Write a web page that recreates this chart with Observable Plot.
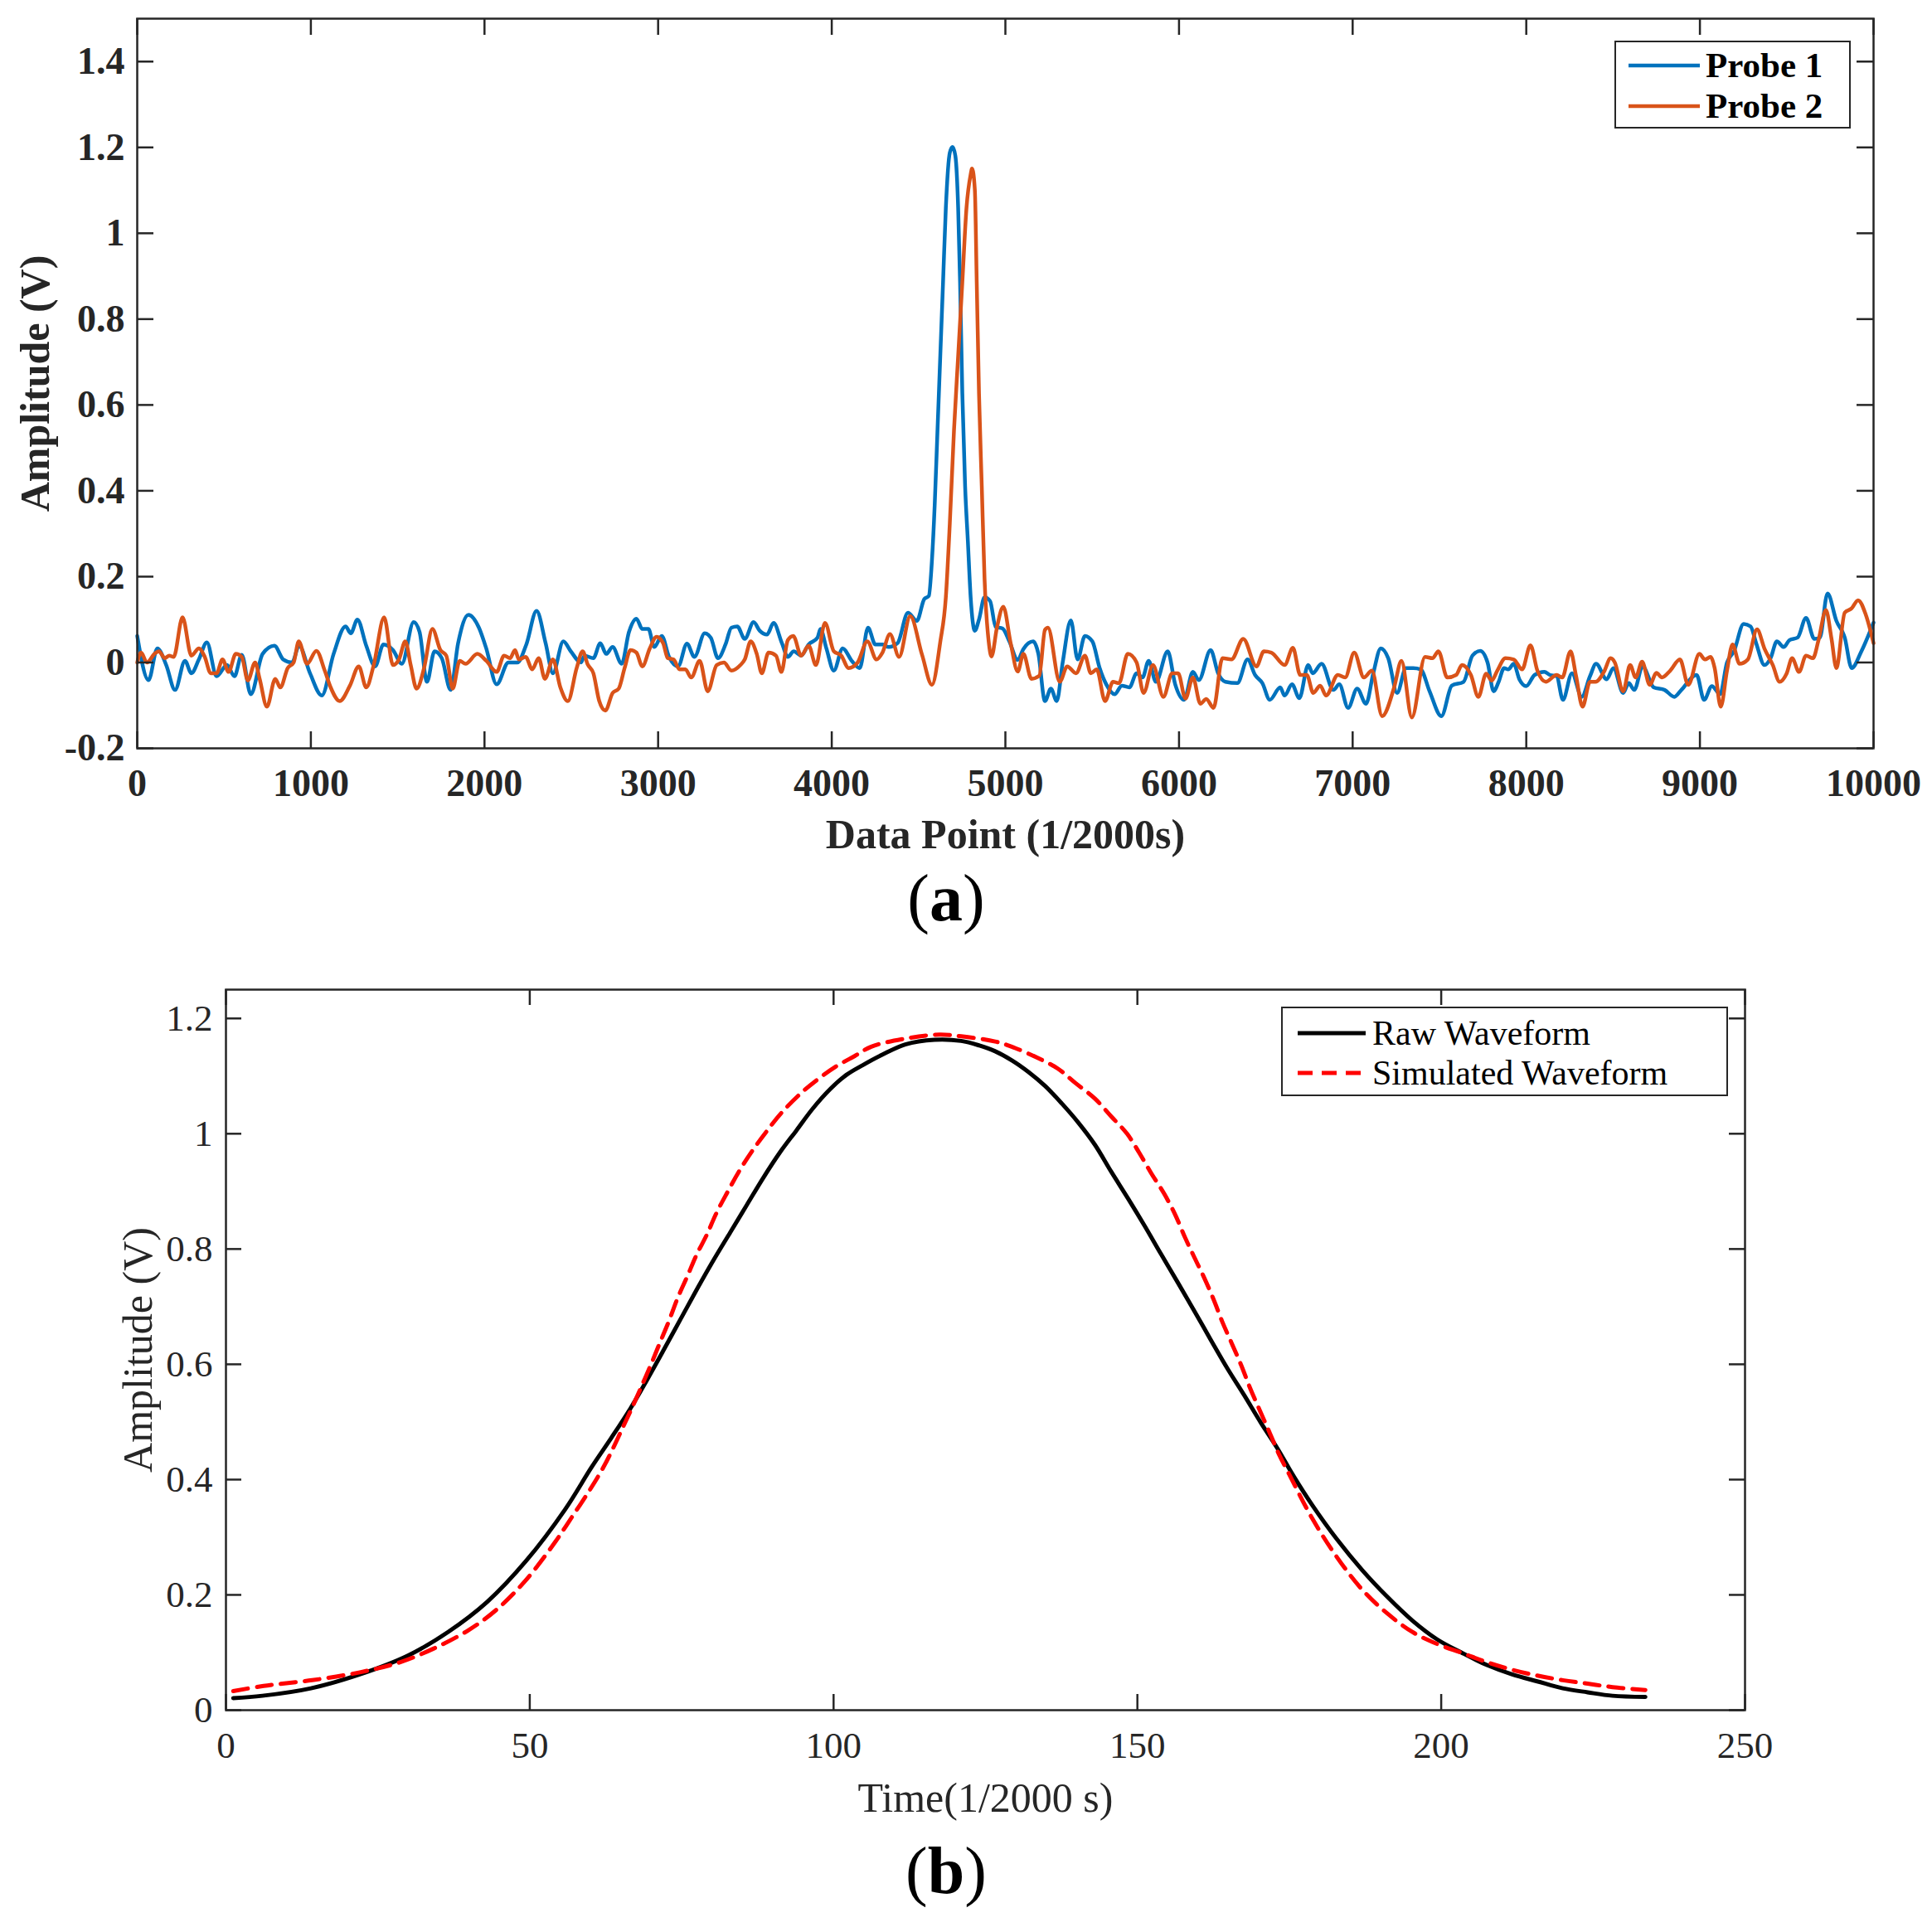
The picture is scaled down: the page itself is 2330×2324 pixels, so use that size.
<!DOCTYPE html>
<html>
<head>
<meta charset="utf-8">
<script src="https://cdn.jsdelivr.net/npm/d3@7"></script>
<script src="https://cdn.jsdelivr.net/npm/@observablehq/plot@0.6"></script>
<style>
  body { margin: 0; background: #fff; }
  #page { position: relative; width: 2330px; height: 2324px; background: #fff; font-family: "Liberation Serif", "Times New Roman", serif; color: #000; overflow: hidden; }
  .panel { position: absolute; left: 0; }
  .legend { position: absolute; border: 2px solid #262626; background: #fff; box-sizing: border-box; }
  .row { position: absolute; left: 0; height: 50px; white-space: nowrap; }
  .row svg { position: absolute; top: 0; left: 0; }
  .row span { position: absolute; line-height: 50px; top: 0; }
  .cap { position: absolute; left: 0; width: 2282px; text-align: center; font-size: 80px; line-height: 80px; color: #000; }
</style>
</head>
<body>
<div id="page">
  <div id="panelA" class="panel" style="top:0px"></div>
  <div id="panelB" class="panel" style="top:1140px"></div>
  <div class="cap" style="top:1043px">(<b>a</b>)</div>
  <div class="cap" style="top:2216px">(<b>b</b>)</div>
</div>
<script>
// ---------- Panel (a) data ----------
const probe1X = [0,65,116,167,218,275,312,355,401,457,517,560,602,654,722,790,841,892,932,995,1063,1131,1200,1230,1268,1319,1370,1418,1473,1524,1592,1626,1669,1712,1754,1805,1848,1908,1968,2010,2070,2138,2189,2241,2300,2352,2394,2454,2497,2556,2576,2627,2667,2701,2738,2790,2832,2875,2909,2944,2978,3021,3063,3115,3166,3209,3268,3303,3345,3388,3422,3456,3499,3550,3585,3627,3665,3713,3747,3781,3824,3867,3918,3935,3969,4012,4063,4115,4161,4209,4251,4294,4328,4379,4439,4490,4533,4559,4577,4593,4609,4625,4641,4657,4680,4696,4712,4728,4739,4752,4768,4784,4800,4824,4848,4880,4912,4944,4984,5024,5071,5103,5160,5190,5228,5262,5296,5330,5377,5416,5458,5501,5543,5581,5629,5671,5714,5756,5790,5825,5867,5935,5978,6029,6080,6114,6182,6225,6267,6336,6395,6438,6480,6523,6583,6608,6651,6693,6744,6770,6821,6889,6923,6974,7026,7077,7119,7162,7205,7256,7307,7349,7392,7443,7511,7571,7639,7690,7735,7777,7812,7841,7872,7896,7928,7960,8000,8048,8104,8136,8175,8211,8263,8319,8367,8402,8463,8502,8558,8590,8622,8670,8734,8797,8853,8893,8981,9024,9069,9116,9156,9196,9252,9292,9324,9372,9407,9443,9483,9515,9563,9611,9659,9691,9735,9786,9834,9874,9930,10000];
const probe1Y = [0.062,-0.041,0.033,-0.006,-0.064,0.004,-0.025,0.007,0.047,-0.032,-0.006,-0.032,0.018,-0.074,0.020,0.039,0.007,0.000,0.039,-0.025,-0.077,0.020,0.084,0.068,0.100,0.039,-0.009,0.042,0.029,-0.003,0.094,0.071,-0.045,0.026,0.010,-0.064,0.045,0.111,0.081,0.033,-0.051,0.000,0.000,0.042,0.120,0.045,-0.025,0.049,0.026,0.000,0.016,0.010,0.045,0.020,0.036,-0.003,0.071,0.102,0.078,0.078,0.036,0.062,0.013,-0.009,0.044,0.013,0.068,0.058,0.010,0.042,0.081,0.084,0.055,0.094,0.074,0.065,0.092,0.045,0.013,0.026,0.016,0.042,0.058,0.078,0.033,-0.019,0.033,0.004,-0.013,0.081,0.042,0.042,0.036,0.045,0.116,0.097,0.148,0.155,0.238,0.368,0.541,0.714,0.886,1.059,1.188,1.201,1.180,1.059,0.886,0.627,0.411,0.282,0.152,0.074,0.100,0.152,0.143,0.083,0.079,0.048,0.006,0.031,0.049,0.020,-0.090,-0.061,-0.090,0.000,0.098,0.007,0.062,0.049,-0.013,-0.051,-0.074,-0.054,-0.058,-0.025,-0.035,0.004,-0.045,0.026,-0.051,-0.087,-0.022,-0.041,0.029,-0.025,-0.045,-0.048,0.007,-0.029,-0.048,-0.087,-0.058,-0.077,-0.051,-0.083,-0.006,-0.025,-0.003,-0.064,-0.051,-0.106,-0.061,-0.096,-0.025,0.033,0.010,-0.071,-0.013,-0.013,-0.016,-0.067,-0.125,-0.054,-0.045,0.016,0.027,0.000,-0.067,-0.045,-0.013,-0.016,-0.003,-0.039,-0.055,-0.029,-0.022,-0.029,-0.032,-0.087,-0.025,-0.080,-0.032,-0.003,-0.039,-0.013,-0.071,-0.048,-0.064,-0.009,-0.058,-0.064,-0.080,-0.064,-0.029,-0.087,-0.055,-0.074,0.000,0.026,0.090,0.084,0.045,-0.006,0.010,0.049,0.036,0.052,0.058,0.104,0.055,0.058,0.161,0.097,0.058,-0.013,0.026,0.093];

const probe2X = [0,22,56,99,125,159,184,210,261,312,355,389,423,457,491,526,568,602,637,679,705,747,795,824,867,901,930,978,1032,1080,1114,1166,1225,1276,1319,1362,1422,1473,1507,1544,1575,1609,1652,1700,1746,1780,1817,1857,1891,1959,2010,2070,2113,2147,2176,2198,2237,2275,2312,2348,2394,2437,2480,2531,2565,2595,2627,2661,2696,2738,2773,2807,2841,2875,2909,2952,2991,3029,3055,3089,3123,3157,3191,3239,3286,3337,3379,3422,3474,3499,3533,3568,3597,3636,3679,3710,3747,3778,3824,3867,3909,3961,4012,4055,4097,4149,4205,4258,4292,4335,4388,4452,4520,4577,4625,4657,4680,4704,4728,4752,4776,4800,4808,4824,4835,4848,4864,4880,4904,4920,4952,4988,5030,5071,5104,5150,5195,5228,5245,5313,5356,5407,5458,5492,5526,5574,5620,5654,5705,5756,5796,5850,5910,5961,5995,6037,6080,6123,6157,6199,6250,6302,6370,6446,6489,6532,6608,6656,6698,6736,6773,6813,6847,6915,6957,7009,7065,7111,7170,7239,7281,7341,7417,7460,7494,7545,7596,7630,7681,7724,7769,7801,7833,7880,7928,7976,8024,8064,8112,8175,8207,8255,8287,8324,8367,8399,8447,8486,8510,8558,8598,8630,8667,8711,8750,8781,8829,8885,8933,8997,9029,9061,9085,9120,9156,9188,9228,9276,9329,9372,9420,9459,9499,9531,9571,9611,9651,9683,9726,9758,9786,9834,9874,9911,9954,10000];
const probe2Y = [0.000,0.023,0.000,0.020,0.026,0.010,0.016,0.013,0.105,0.016,0.033,0.013,-0.025,-0.025,0.007,-0.022,0.020,0.013,-0.042,0.000,-0.038,-0.103,-0.038,-0.058,-0.013,0.000,0.049,-0.003,0.027,-0.019,-0.058,-0.090,-0.054,-0.009,-0.058,-0.006,0.105,-0.006,0.007,0.049,-0.006,-0.061,-0.013,0.078,0.029,0.016,-0.061,0.004,-0.003,0.020,0.004,-0.022,0.016,0.010,0.029,0.007,0.013,-0.016,0.010,-0.038,0.007,-0.058,-0.090,-0.013,0.026,-0.005,-0.025,-0.090,-0.112,-0.071,-0.061,-0.013,0.029,0.023,-0.009,0.033,0.060,0.045,0.010,0.007,-0.016,-0.016,-0.035,0.004,-0.067,-0.006,0.000,-0.019,-0.006,0.007,0.049,0.020,-0.025,0.023,0.016,-0.022,0.052,0.062,0.016,0.039,-0.006,0.092,0.026,0.016,-0.013,0.000,0.049,0.007,0.023,0.066,0.013,0.108,0.018,-0.052,0.048,0.152,0.325,0.541,0.714,0.886,1.059,1.137,1.151,1.102,0.886,0.627,0.411,0.195,0.048,0.014,0.083,0.130,0.046,-0.021,0.020,-0.038,-0.031,0.076,0.081,-0.045,-0.009,-0.025,0.016,-0.025,-0.016,-0.090,-0.045,-0.048,0.020,0.000,-0.071,-0.006,-0.080,-0.025,-0.025,-0.084,-0.035,-0.096,-0.085,-0.106,0.010,0.007,0.055,-0.009,0.026,0.023,-0.006,0.034,-0.029,-0.029,-0.071,-0.054,-0.077,-0.029,-0.035,0.023,-0.035,-0.019,-0.125,-0.058,0.004,-0.128,0.013,0.010,0.026,-0.035,-0.029,-0.006,-0.029,-0.080,-0.026,-0.042,-0.019,0.010,0.007,-0.016,0.040,-0.019,-0.045,-0.029,-0.035,0.026,-0.032,-0.103,-0.045,-0.045,-0.022,0.010,0.000,-0.067,-0.006,-0.035,0.002,-0.052,-0.024,-0.035,-0.019,0.007,-0.052,0.020,0.007,0.013,-0.013,-0.103,-0.019,0.042,-0.003,0.007,0.077,0.032,-0.006,-0.045,-0.026,0.010,-0.022,0.016,0.010,0.052,0.122,0.055,-0.013,0.116,0.126,0.145,0.113,0.045];

const seriesNamesA = ["Probe 1", "Probe 2"];
const seriesColorsA = ["#0072BD", "#D95319"];
const xTicksA = [0,1000,2000,3000,4000,5000,6000,7000,8000,9000,10000];
const yTicksA = [-0.2,0,0.2,0.4,0.6,0.8,1,1.2,1.4];
const xLabelA = "Data Point (1/2000s)";
const yLabelA = "Amplitude (V)";

// ---------- Panel (b) data ----------
const rawT = [1.2,6,14,22,30,36.6,43,49.4,55.8,60.2,63.4,66.6,69.3,72.1,74.8,77.5,80.2,83,85.7,88.4,91.2,93.9,96.6,99.4,102.1,104.8,108,111.8,116.6,121,124,126.6,129.4,132.1,134.8,137.6,140.3,143,145.7,148.5,151.2,153.9,156.7,159.4,162.1,164.8,167.6,170.3,173,175.6,178.7,182.8,187,191.1,195.2,199.3,203.5,207.6,211.7,215.8,220,224.1,228.2,233.6];
const rawV = [0.021,0.025,0.038,0.062,0.095,0.136,0.188,0.259,0.348,0.422,0.472,0.524,0.573,0.626,0.678,0.730,0.780,0.829,0.876,0.923,0.968,1.006,1.044,1.077,1.102,1.119,1.137,1.155,1.163,1.161,1.153,1.143,1.127,1.107,1.083,1.052,1.019,0.981,0.934,0.887,0.840,0.791,0.741,0.692,0.642,0.593,0.546,0.499,0.455,0.408,0.357,0.297,0.243,0.197,0.156,0.123,0.099,0.078,0.062,0.050,0.038,0.031,0.025,0.023];
const simT = [1.2,6.2,14.2,22.2,28.6,34.2,39.8,44.6,49.4,54.2,57,60,62.1,63.6,65.2,66.8,68.4,70,71.4,72.9,74.3,75.9,77.5,79.1,80.7,82.5,84.4,86.6,88.9,91.4,94.8,97.6,100.3,103.5,106.2,111.8,117.4,121,126.6,129.8,133.5,136.9,139.8,143,145.7,148.3,150.3,152.3,154.4,156.2,157.8,159.4,161,162.6,164,165.5,167.1,168.5,170.1,171.7,173.3,174.9,178.7,182.8,187,191.1,195.2,199.3,203.5,207.6,211.7,215.8,220,224.1,228.2,233.6];
const simV = [0.033,0.042,0.052,0.066,0.083,0.107,0.138,0.175,0.226,0.292,0.336,0.384,0.421,0.452,0.488,0.524,0.562,0.601,0.637,0.675,0.714,0.752,0.791,0.824,0.862,0.898,0.934,0.970,1.003,1.036,1.072,1.096,1.116,1.135,1.151,1.165,1.172,1.169,1.160,1.149,1.132,1.113,1.088,1.061,1.030,1.000,0.967,0.931,0.896,0.860,0.821,0.785,0.750,0.711,0.673,0.637,0.598,0.560,0.521,0.483,0.444,0.411,0.334,0.266,0.209,0.168,0.136,0.115,0.099,0.083,0.070,0.060,0.052,0.046,0.040,0.035];

const seriesNamesB = ["Raw Waveform", "Simulated Waveform"];
const xTicksB = [0,50,100,150,200,250];
const yTicksB = [0,0.2,0.4,0.6,0.8,1,1.2];
const xLabelB = "Time(1/2000 s)";
const yLabelB = "Amplitude (V)";

const axisColor = "#262626";
const fmt = d => String(+d.toFixed(4));

// ---------- Build panel (a) ----------
const probe1 = probe1X.map((x, i) => ({x, y: probe1Y[i]}));
const probe2 = probe2X.map((x, i) => ({x, y: probe2Y[i]}));

const WA = 2330, HA = 1050, mtA = 22, mbA = 148, mlA = 165, mrA = 71;
const ihA = HA - mtA - mbA, iwA = WA - mlA - mrA, tkA = 20;

const chartA = Plot.plot({
  width: WA, height: HA,
  marginTop: mtA, marginBottom: mbA, marginLeft: mlA, marginRight: mrA,
  x: {domain: [0, 10000], label: null},
  y: {domain: [-0.2, 1.5], label: null},
  style: {fontFamily: "'Liberation Serif', 'Times New Roman', serif", fontWeight: "bold", fontSize: "46px", color: axisColor, background: "transparent", overflow: "visible"},
  marks: [
    Plot.line(probe1, {x: "x", y: "y", stroke: seriesColorsA[0], strokeWidth: 4.5, curve: "monotone-x"}),
    Plot.line(probe2, {x: "x", y: "y", stroke: seriesColorsA[1], strokeWidth: 4.5, curve: "monotone-x"}),
    Plot.frame({stroke: axisColor, strokeWidth: 2.5}),
    Plot.tickX(xTicksA, {x: d => d, insetTop: ihA - tkA, stroke: axisColor, strokeWidth: 2.5}),
    Plot.tickX(xTicksA, {x: d => d, insetBottom: ihA - tkA, stroke: axisColor, strokeWidth: 2.5}),
    Plot.tickY(yTicksA, {y: d => d, insetRight: iwA - tkA, stroke: axisColor, strokeWidth: 2.5}),
    Plot.tickY(yTicksA, {y: d => d, insetLeft: iwA - tkA, stroke: axisColor, strokeWidth: 2.5}),
    Plot.axisX(xTicksA, {tickSize: 0, tickPadding: 25, tickFormat: fmt, label: null, fontSize: 46, fontWeight: "bold"}),
    Plot.axisY(yTicksA, {tickSize: 0, tickPadding: 15, tickFormat: fmt, label: null, fontSize: 46, fontWeight: "bold"}),
    Plot.text([xLabelA], {text: d => d, frameAnchor: "bottom", lineAnchor: "middle", textAnchor: "middle", dy: 104, fontSize: 50, fontWeight: "bold", fill: axisColor}),
    Plot.text([yLabelA], {text: d => d, frameAnchor: "left", lineAnchor: "middle", textAnchor: "middle", dx: -123, rotate: -90, fontSize: 50, fontWeight: "bold", fill: axisColor})
  ]
});
document.getElementById("panelA").appendChild(chartA);

// ---------- Build panel (b) ----------
const raw = rawT.map((t, i) => ({t, v: rawV[i]}));
const sim = simT.map((t, i) => ({t, v: simV[i]}));

const WB = 2330, HB = 1080, mtB = 53, mbB = 158, mlB = 272, mrB = 226;
const ihB = HB - mtB - mbB, iwB = WB - mlB - mrB, tkB = 19;

const chartB = Plot.plot({
  width: WB, height: HB,
  marginTop: mtB, marginBottom: mbB, marginLeft: mlB, marginRight: mrB,
  x: {domain: [0, 250], label: null},
  y: {domain: [0, 1.25], label: null},
  style: {fontFamily: "'Liberation Serif', 'Times New Roman', serif", fontWeight: "normal", fontSize: "45px", color: axisColor, background: "transparent", overflow: "visible"},
  marks: [
    Plot.line(raw, {x: "t", y: "v", stroke: "#000000", strokeWidth: 5, curve: "catmull-rom"}),
    Plot.line(sim, {x: "t", y: "v", stroke: "#FF0000", strokeWidth: 5, strokeDasharray: "18,11", curve: "catmull-rom"}),
    Plot.frame({stroke: axisColor, strokeWidth: 2.5}),
    Plot.tickX(xTicksB, {x: d => d, insetTop: ihB - tkB, stroke: axisColor, strokeWidth: 2.5}),
    Plot.tickX(xTicksB, {x: d => d, insetBottom: ihB - tkB, stroke: axisColor, strokeWidth: 2.5}),
    Plot.tickY(yTicksB, {y: d => d, insetRight: iwB - tkB, stroke: axisColor, strokeWidth: 2.5}),
    Plot.tickY(yTicksB, {y: d => d, insetLeft: iwB - tkB, stroke: axisColor, strokeWidth: 2.5}),
    Plot.axisX(xTicksB, {tickSize: 0, tickPadding: 26, tickFormat: fmt, label: null, fontSize: 45}),
    Plot.axisY(yTicksB, {tickSize: 0, tickPadding: 16, tickFormat: fmt, label: null, fontSize: 45}),
    Plot.text([xLabelB], {text: d => d, frameAnchor: "bottom", lineAnchor: "middle", textAnchor: "middle", dy: 106, fontSize: 50, fill: axisColor}),
    Plot.text([yLabelB], {text: d => d, frameAnchor: "left", lineAnchor: "middle", textAnchor: "middle", dx: -106, rotate: -90, fontSize: 50, fill: axisColor})
  ]
});
document.getElementById("panelB").appendChild(chartB);

// ---------- Legends (HTML, overlaid inside the frames) ----------
function makeLegend(parent, box, rows) {
  const lg = document.createElement("div");
  lg.className = "legend";
  Object.assign(lg.style, {left: box.left + "px", top: box.top + "px", width: box.width + "px", height: box.height + "px"});
  rows.forEach(r => {
    const row = document.createElement("div");
    row.className = "row";
    row.style.top = (r.cy - 25) + "px";
    row.style.width = box.width + "px";
    const svg = document.createElementNS("http://www.w3.org/2000/svg", "svg");
    svg.setAttribute("width", box.width);
    svg.setAttribute("height", 50);
    const ln = document.createElementNS("http://www.w3.org/2000/svg", "line");
    ln.setAttribute("x1", box.lx1); ln.setAttribute("x2", box.lx2);
    ln.setAttribute("y1", 25); ln.setAttribute("y2", 25);
    ln.setAttribute("stroke", r.color);
    ln.setAttribute("stroke-width", r.width);
    if (r.dash) ln.setAttribute("stroke-dasharray", r.dash);
    svg.appendChild(ln);
    row.appendChild(svg);
    const sp = document.createElement("span");
    sp.textContent = r.label;
    sp.style.left = box.tx + "px";
    sp.style.fontSize = box.fontSize + "px";
    sp.style.fontWeight = box.bold ? "bold" : "normal";
    row.appendChild(sp);
    lg.appendChild(row);
  });
  parent.appendChild(lg);
}
const page = document.getElementById("page");
makeLegend(page, {left: 1947, top: 49, width: 285, height: 106, lx1: 15, lx2: 101, tx: 108, fontSize: 43, bold: true}, [
  {label: seriesNamesA[0], color: seriesColorsA[0], width: 4.5, cy: 28},
  {label: seriesNamesA[1], color: seriesColorsA[1], width: 4.5, cy: 77}
]);
makeLegend(page, {left: 1545, top: 1214, width: 539, height: 108, lx1: 18, lx2: 100, tx: 108, fontSize: 42, bold: false}, [
  {label: seriesNamesB[0], color: "#000000", width: 5, cy: 30},
  {label: seriesNamesB[1], color: "#FF0000", width: 5, dash: "18,11", cy: 78}
]);
</script>
</body>
</html>
